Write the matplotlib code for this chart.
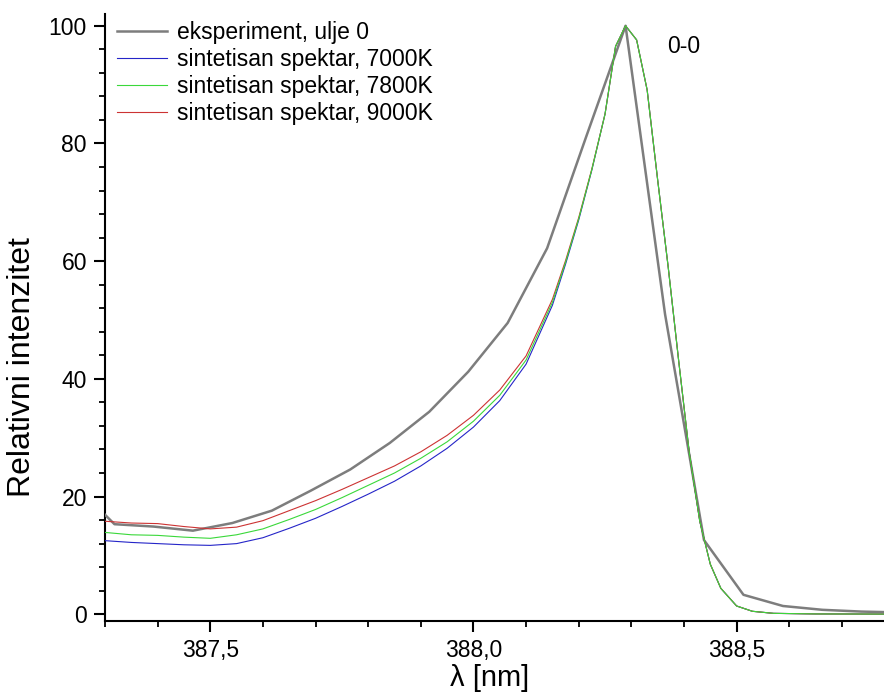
import matplotlib
matplotlib.use('Agg')
import matplotlib.pyplot as plt
from matplotlib.ticker import MultipleLocator, FuncFormatter, FixedLocator

plt.rcParams['font.family'] = ['Liberation Sans', 'DejaVu Sans']

# ---- data ----
exp_x = [387.243, 387.318, 387.392, 387.467, 387.542, 387.617, 387.691, 387.766,
         387.841, 387.916, 387.990, 388.065, 388.140, 388.214, 388.289, 388.364,
         388.438, 388.513, 388.588, 388.663, 388.737, 388.812]
exp_y = [22.0, 15.3, 14.9, 14.2, 15.5, 17.6, 21.0, 24.6,
         29.1, 34.4, 41.2, 49.5, 62.2, 81.1, 100.0, 51.0,
         12.6, 3.3, 1.4, 0.75, 0.45, 0.3]

syn_x = [387.30, 387.35, 387.40, 387.45, 387.50, 387.55, 387.60, 387.65,
         387.70, 387.75, 387.80, 387.85, 387.90, 387.95, 388.00, 388.05,
         388.10, 388.15, 388.175, 388.20, 388.225, 388.25, 388.27, 388.289,
         388.31, 388.33, 388.35, 388.37, 388.39, 388.41, 388.43, 388.45,
         388.47, 388.50, 388.53, 388.57, 388.65, 388.80]
syn_7000 = [12.5, 12.2, 12.0, 11.8, 11.7, 12.0, 13.0, 14.6,
            16.3, 18.3, 20.4, 22.6, 25.2, 28.2, 31.8, 36.3,
            42.5, 52.5, 59.5, 67.0, 75.5, 85.0, 96.5, 100.0,
            97.6, 89.1, 73.8, 59.0, 43.0, 27.5, 15.8, 8.5,
            4.4, 1.4, 0.5, 0.15, 0.05, 0.02]
syn_7800 = [13.9, 13.5, 13.4, 13.1, 12.9, 13.5, 14.5, 16.1,
            17.8, 19.8, 21.9, 24.0, 26.5, 29.3, 32.8, 37.2,
            43.2, 53.0, 59.8, 67.2, 75.6, 85.0, 96.5, 100.0,
            97.6, 89.1, 73.8, 59.0, 43.0, 27.5, 15.8, 8.5,
            4.4, 1.4, 0.5, 0.15, 0.05, 0.02]
syn_9000 = [15.8, 15.5, 15.4, 14.9, 14.5, 14.8, 15.9, 17.6,
            19.3, 21.2, 23.2, 25.2, 27.6, 30.4, 33.8, 38.1,
            43.9, 53.5, 60.1, 67.4, 75.7, 85.0, 96.5, 100.0,
            97.6, 89.1, 73.8, 59.0, 43.0, 27.5, 15.8, 8.5,
            4.4, 1.4, 0.5, 0.15, 0.05, 0.02]

labels = ['eksperiment, ulje 0', 'sintetisan spektar, 7000K',
          'sintetisan spektar, 7800K', 'sintetisan spektar, 9000K']
x_major = [387.5, 388.0, 388.5]

# ---- figure ----
W, H = 884, 695
fig = plt.figure(figsize=(W / 100, H / 100), dpi=100)
ax = fig.add_axes([105 / W, (H - 620.7) / H, (W - 105) / W, (620.7 - 14) / H])

l_exp, = ax.plot(exp_x, exp_y, color='#7d7d7d', lw=1.8, zorder=3)
l_b, = ax.plot(syn_x, syn_7000, color='#2525c8', lw=0.8, zorder=4)
l_r, = ax.plot(syn_x, syn_9000, color='#cc3333', lw=0.8, zorder=5)
l_g, = ax.plot(syn_x, syn_7800, color='#3ad83a', lw=0.8, zorder=6)

ax.set_xlim(387.3, 388.78)
ax.set_ylim(-1.1, 102.0)

for s in ('top', 'right'):
    ax.spines[s].set_visible(False)
for s in ('left', 'bottom'):
    ax.spines[s].set_linewidth(1.5)

ax.xaxis.set_major_locator(FixedLocator(x_major))
ax.xaxis.set_minor_locator(MultipleLocator(0.1))
ax.yaxis.set_major_locator(MultipleLocator(20))
ax.yaxis.set_minor_locator(MultipleLocator(4))
ax.xaxis.set_major_formatter(FuncFormatter(lambda v, p: f'{v:.1f}'.replace('.', ',')))
ax.yaxis.set_major_formatter(FuncFormatter(lambda v, p: f'{v:.0f}'))

ax.tick_params(which='major', direction='out', length=8, width=1.5, labelsize=16.5, pad=5)
ax.tick_params(which='minor', direction='out', length=4, width=1.3)

ax.set_xlabel('λ [nm]', fontsize=21)
ax.set_ylabel('Relativni intenzitet', fontsize=23)
ax.xaxis.set_label_coords((490 - 105) / (W - 105), -(678 - 620.7) / 606.7)
ax.yaxis.set_label_coords(-(105 - 22) / (W - 105), (620.7 - 367) / 606.7)
ax.xaxis.label.set_va('center')
ax.yaxis.label.set_va('center')

ax.text(388.40, 96.4, '0-0', fontsize=16.5, ha='center', va='center')

ax.legend([l_exp, l_b, l_g, l_r], labels, loc='upper left',
          bbox_to_anchor=(117 / W, 1 - 21 / H), bbox_transform=fig.transFigure,
          frameon=False, fontsize=16.5, handlelength=2.2, handletextpad=0.4,
          labelspacing=0.17, borderpad=0, borderaxespad=0)

fig.savefig('out.png', dpi=100)
